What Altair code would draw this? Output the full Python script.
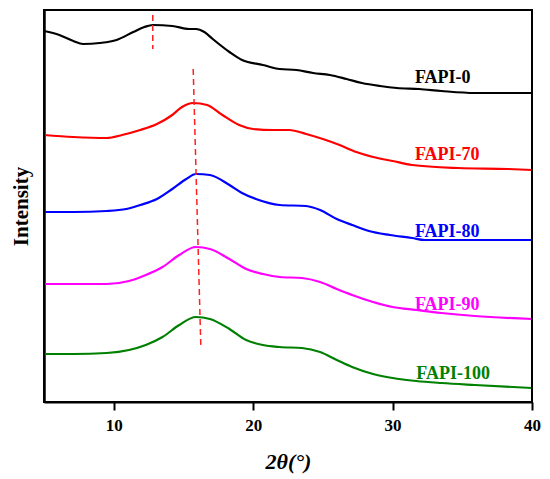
import altair as alt
import pandas as pd

# ---- data ----
names = ["FAPI-0", "FAPI-70", "FAPI-80", "FAPI-90", "FAPI-100"]
colors = ["#000000", "#ff0000", "#0000ff", "#ff00ff", "#008000"]

tt_0 = [5.0, 6.1, 7.1, 7.8, 9.0, 10.2, 11.4, 12.2, 12.8, 14.2, 15.4, 15.9, 16.5, 17.1, 18.3,
        19.2, 20.7, 21.9, 23.1, 24.3, 25.5, 26.7, 27.8, 29.1, 30.3, 31.9, 33.5, 35.9, 40.0]
int_0 = [371, 367, 361, 358, 359, 362, 370, 375, 377, 376, 373, 373, 370, 363, 350,
         342, 337, 333, 332, 329, 327, 323, 319, 316, 314, 313, 311, 309, 309]

tt_70 = [5.0, 7.1, 9.5, 10.6, 11.9, 13.1, 14.2, 14.9, 15.7, 16.7, 17.8, 19.0, 20.0, 21.4,
         22.6, 23.8, 25.0, 26.2, 27.4, 28.6, 30.0, 31.4, 34.7, 38.3, 40.0]
int_70 = [267, 265, 264, 267, 272, 278, 287, 295, 299, 297, 287, 277, 273, 272,
          272, 268, 263, 257, 250, 245, 241, 237, 234, 233, 232]

tt_80 = [5.0, 7.1, 9.5, 10.9, 11.9, 13.1, 14.2, 15.2, 15.9, 16.9, 18.3, 19.2, 20.2, 21.9,
         23.8, 24.8, 26.0, 27.1, 28.3, 29.8, 31.4, 32.3, 35.9, 40.0]
int_80 = [190, 190, 191, 193, 197, 203, 213, 223, 228, 227, 217, 209, 203, 197,
          196, 192, 183, 177, 171, 167, 164, 162, 162, 162]

tt_90 = [5.0, 7.1, 9.5, 11.1, 12.3, 13.5, 14.7, 15.9, 16.9, 18.3, 19.5, 20.7, 21.9, 23.5,
         24.8, 26.0, 27.1, 28.6, 30.0, 31.7, 33.5, 35.9, 40.0]
int_90 = [118, 118, 118, 121, 127, 135, 147, 155, 153, 143, 133, 128, 125, 124,
          120, 113, 107, 100, 95, 92, 89, 86, 83]

tt_100 = [5.0, 7.1, 9.5, 11.1, 12.3, 13.5, 14.7, 15.9, 16.9, 18.3, 19.5, 20.7, 21.9, 23.5,
          24.8, 26.0, 27.1, 28.6, 30.0, 31.7, 33.5, 35.9, 40.0]
int_100 = [48, 48, 49, 52, 57, 65, 77, 85, 83, 73, 62, 57, 55, 54,
           50, 42, 35, 28, 24, 21, 19, 17, 14]

# dashed guide segments (x, y, x2, y2)
guide_x = [12.8, 15.7]
guide_y = [387, 333]
guide_x2 = [12.8, 16.25]
guide_y2 = [353, 55]

# label positions (left edge, baseline)
label_x = [31.6, 31.6, 31.6, 31.6, 31.7]
label_y = [319, 242, 165, 92, 23]

x_ticks = [10, 20, 30, 40]

# ---- build tables ----
rows = []
for name, tt, ii in zip(names, [tt_0, tt_70, tt_80, tt_90, tt_100],
                        [int_0, int_70, int_80, int_90, int_100]):
    for t, v in zip(tt, ii):
        rows.append({"series": name, "tt": t, "intensity": v})
df = pd.DataFrame(rows)
guides = pd.DataFrame({"x": guide_x, "y": guide_y, "x2": guide_x2, "y2": guide_y2})
labels = pd.DataFrame({"series": names, "x": label_x, "y": label_y})
one_row = pd.DataFrame({"k": [0]})

W, H = 488, 392
FONT = "Liberation Serif"
color_scale = alt.Scale(domain=names, range=colors)
xscale = alt.Scale(domain=[5, 40], nice=False, zero=False)
yscale = alt.Scale(domain=[0, 392], nice=False, zero=False)

x_axis = alt.Axis(values=x_ticks, title="2θ(°)", grid=False, domainColor="black",
                  domainWidth=2, tickColor="black", tickWidth=2, tickSize=8,
                  labelFont=FONT, labelFontSize=17, labelFontWeight="bold",
                  labelColor="black", labelPadding=7, labelFlush=False,
                  titleFont=FONT, titleFontSize=22, titleFontWeight="bold",
                  titleFontStyle="italic", titleColor="black",
                  titleX=244, titleY=66, titleBaseline="alphabetic", titleAlign="center")
y_axis = alt.Axis(title="Intensity", grid=False, ticks=False, labels=False,
                  domainColor="black", domainWidth=2.5,
                  titleFont=FONT, titleFontSize=21, titleFontWeight="bold",
                  titleColor="black", titleAngle=270, titleX=-17, titleY=196,
                  titleBaseline="alphabetic", titleAlign="center")

lines = alt.Chart(df).mark_line(strokeWidth=2.2, interpolate="monotone").encode(
    x=alt.X("tt:Q", scale=xscale, axis=x_axis),
    y=alt.Y("intensity:Q", scale=yscale, axis=y_axis),
    color=alt.Color("series:N", scale=color_scale, legend=None),
    detail="series:N",
)

dashes = alt.Chart(guides).mark_rule(color="#ff2020", strokeWidth=1.5,
                                     strokeDash=[6, 4]).encode(
    x=alt.X("x:Q", scale=xscale),
    y=alt.Y("y:Q", scale=yscale),
    x2="x2:Q",
    y2="y2:Q",
)

texts = alt.Chart(labels).mark_text(align="left", baseline="alphabetic", font=FONT,
                                    fontSize=18, fontWeight="bold").encode(
    x=alt.X("x:Q", scale=xscale),
    y=alt.Y("y:Q", scale=yscale),
    text="series:N",
    color=alt.Color("series:N", scale=color_scale, legend=None),
)

frame = alt.Chart(one_row).mark_rect(fill="transparent", stroke="black",
                                     strokeWidth=2).encode(
    x=alt.value(0), x2=alt.value(W), y=alt.value(0), y2=alt.value(H))

chart = alt.layer(lines, dashes, texts, frame).properties(
    width=W, height=H,
    background="white",
    autosize=alt.AutoSizeParams(type="none"),
    padding={"left": 36, "top": 2, "right": 10, "bottom": 75},
).configure_view(stroke="black", strokeWidth=2)

chart.save("out.html", embed_options={"renderer": "svg", "actions": False})
